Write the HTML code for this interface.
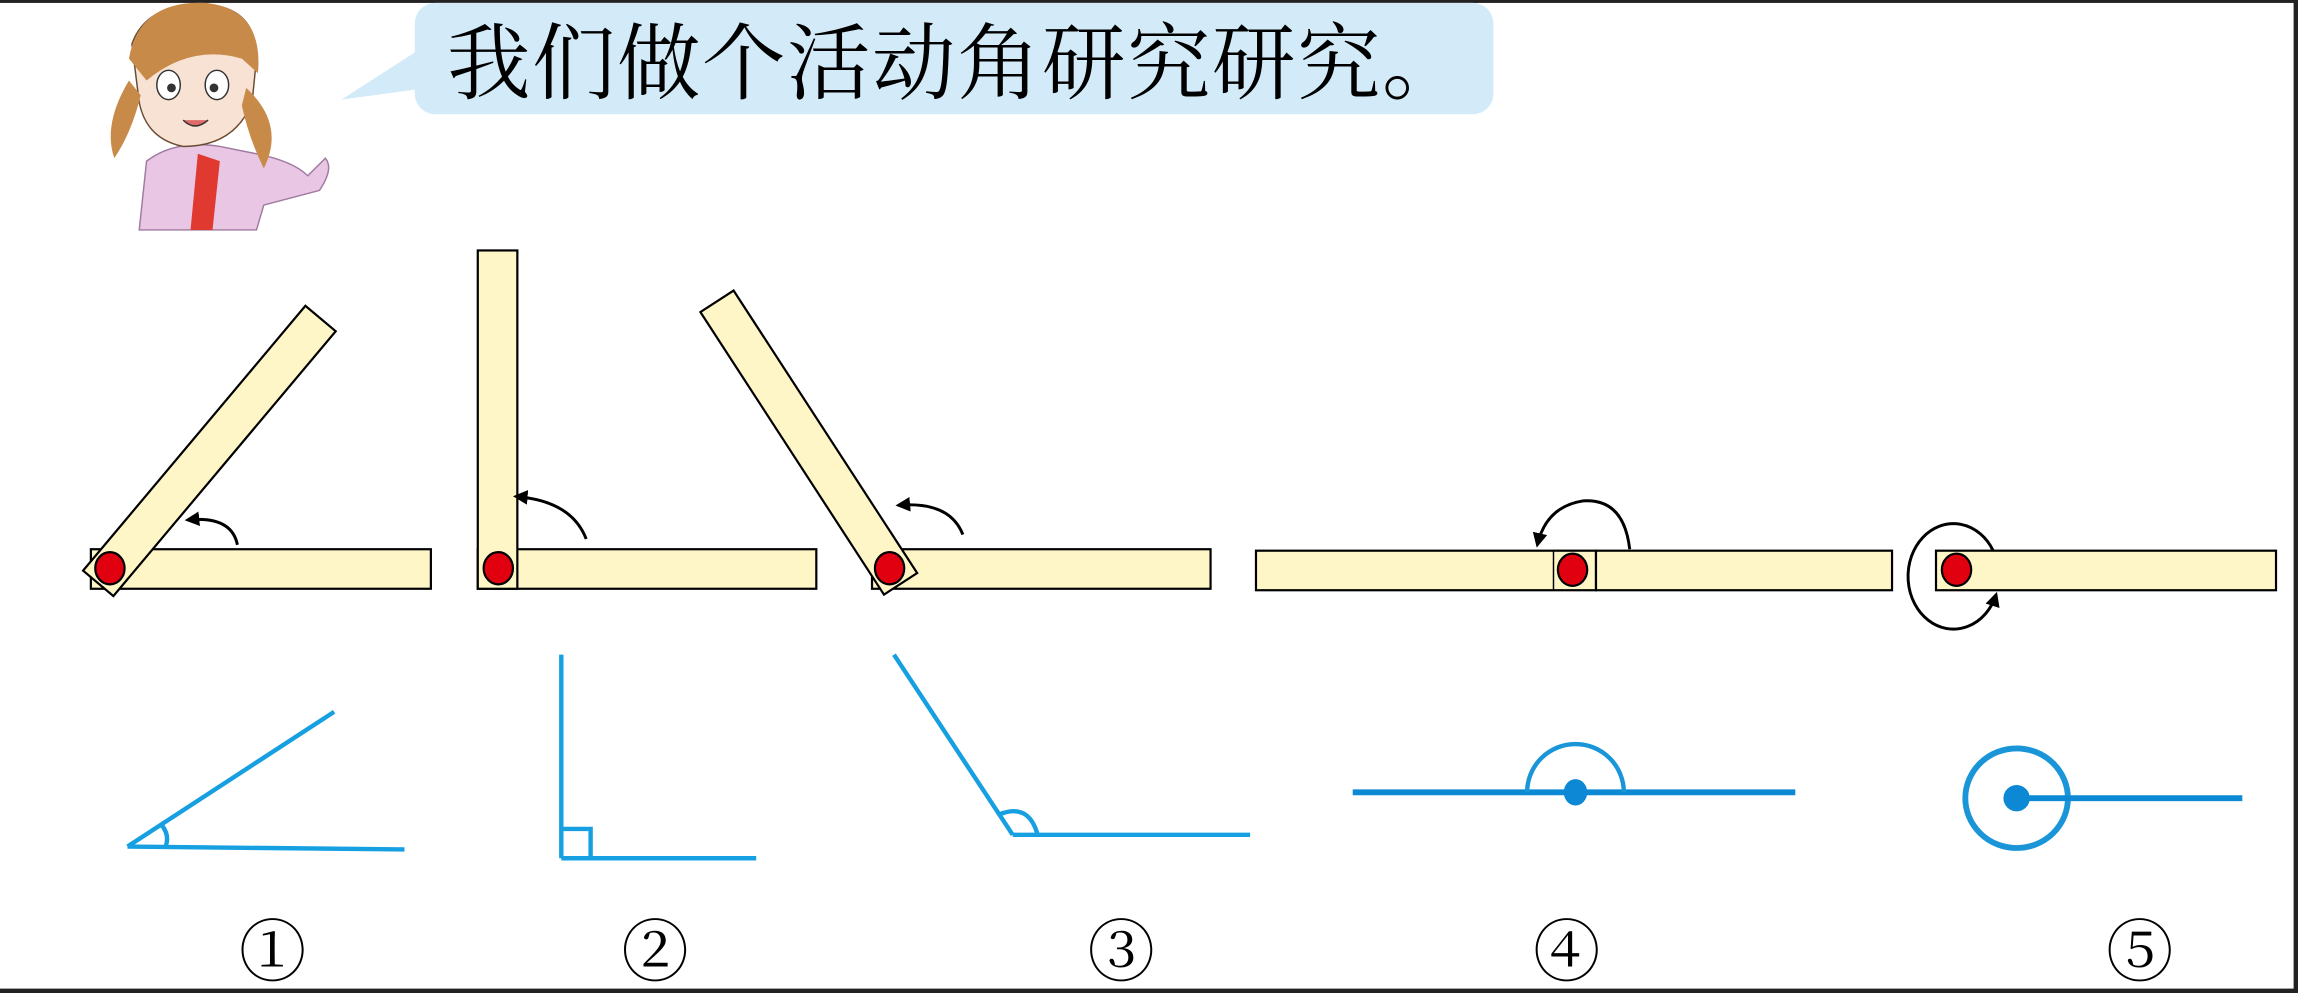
<!DOCTYPE html>
<html><head><meta charset="utf-8"><style>
html,body{margin:0;padding:0;background:#fff;}
svg{display:block;}
</style></head><body>
<svg width="2298" height="993" viewBox="0 0 1568 678" preserveAspectRatio="none" xmlns="http://www.w3.org/2000/svg">
<defs>
<marker id="ah" viewBox="0 0 10 10" refX="8" refY="5" markerWidth="5" markerHeight="5" orient="auto"><path d="M0,0L10,5L0,10z" fill="#000"/></marker>
</defs>
<rect x="0" y="0" width="1568" height="678" fill="#fff"/>
<rect x="0" y="0" width="1568" height="2" fill="#222"/>
<rect x="0" y="675" width="1568" height="3" fill="#222"/>
<rect x="1565" y="0" width="3" height="678" fill="#222"/>

<g>
<path d="M95,157 L100,110 Q120,95 150,100 L175,105 Q200,110 210,120 L222,108 Q228,115 218,130 L180,140 L175,157 Z" fill="#e8c6e4" stroke="#a07aa0" stroke-width="1"/>
<path d="M135,105 L150,110 L145,157 L130,157 Z" fill="#e03a30"/>
<path d="M90,30 Q100,2 140,3 Q175,5 175,40 L172,70 Q160,100 125,100 Q100,95 95,70 Z" fill="#f8e2d4" stroke="#6a4a30" stroke-width="1"/>
<path d="M88,40 Q95,0 140,2 Q180,6 176,50 L165,40 Q130,30 100,55 Z" fill="#c88a48"/>
<path d="M88,55 Q70,85 78,108 Q90,90 96,65 Z" fill="#c88a48"/>
<path d="M168,60 Q195,85 180,115 Q170,95 165,72 Z" fill="#c88a48"/>
<ellipse cx="115" cy="58" rx="8" ry="10" fill="#fff" stroke="#333"/>
<ellipse cx="148" cy="58" rx="8" ry="10" fill="#fff" stroke="#333"/>
<circle cx="117" cy="60" r="3" fill="#333"/><circle cx="146" cy="60" r="3" fill="#333"/>
<path d="M125,82 Q133,90 142,82" fill="#e06a6a" stroke="#333"/>
</g>

<g>
<path d="M292,30 L233,68 L292,60 Z" fill="#d3ebf8"/>
<rect x="283" y="2" width="736" height="76" rx="14" fill="#d3ebf8"/>
<text x="305" y="63" font-family="'Liberation Serif','Noto Serif CJK SC',serif" font-size="57" fill="#000" textLength="695">我们做个活动角研究研究。</text>
</g>

<g stroke="#000" stroke-width="1.5" fill="#fff6c8">
<rect x="62" y="375" width="232" height="27"/>
<g transform="rotate(-50 75 388)"><rect x="62" y="375" width="236" height="27"/></g>
<ellipse cx="75" cy="388" rx="10" ry="11" fill="#e00010"/>
<path d="M162,372 Q158,352 128,355" fill="none" stroke-width="2" marker-end="url(#ah)"/>
</g>
<g stroke="#000" stroke-width="1.5" fill="#fff6c8">
<rect x="326" y="375" width="231" height="27"/>
<rect x="326" y="171" width="27" height="231"/>
<ellipse cx="340" cy="388" rx="10" ry="11" fill="#e00010"/>
<path d="M400,368 Q390,342 352,339" fill="none" stroke-width="2" marker-end="url(#ah)"/>
</g>
<g stroke="#000" stroke-width="1.5" fill="#fff6c8">
<rect x="595" y="375" width="231" height="27"/>
<g transform="rotate(-123 607 388)"><rect x="594" y="375" width="230" height="27"/></g>
<ellipse cx="607" cy="388" rx="10" ry="11" fill="#e00010"/>
<path d="M657,365 Q648,342 613,345" fill="none" stroke-width="2" marker-end="url(#ah)"/>
</g>
<g stroke="#000" stroke-width="1.5" fill="#fff6c8">
<rect x="857" y="376" width="232" height="27"/>
<rect x="1089" y="376" width="202" height="27"/>
<rect x="1060" y="376" width="29" height="27" fill="none" stroke-width="1"/>
<ellipse cx="1073" cy="389" rx="10" ry="11" fill="#e00010"/>
<path d="M1112,375 Q1108,340 1080,342 Q1055,346 1049,372" fill="none" stroke-width="2" marker-end="url(#ah)"/>
</g>
<g stroke="#000" stroke-width="1.5" fill="#fff6c8">
<rect x="1321" y="376" width="232" height="27"/>
<ellipse cx="1335" cy="389" rx="10" ry="11" fill="#e00010"/>
<path d="M1360,376 A31,36 0 1 0 1362,406" fill="none" stroke-width="2" marker-end="url(#ah)"/>
</g>

<g stroke="#16a0e2" stroke-width="3" fill="none">
<line x1="87" y1="578" x2="228" y2="486"/>
<line x1="87" y1="578" x2="276" y2="580"/>
<path d="M110,563 Q116,570 113,578"/>
</g>
<g stroke="#16a0e2" stroke-width="3" fill="none">
<line x1="383" y1="447" x2="383" y2="586"/>
<line x1="383" y1="586" x2="516" y2="586"/>
<polyline points="383,566 403,566 403,586"/>
</g>
<g stroke="#16a0e2" stroke-width="3" fill="none">
<line x1="610" y1="447" x2="691" y2="570"/>
<line x1="691" y1="570" x2="853" y2="570"/>
<path d="M682,556 Q702,548 708,570"/>
</g>
<g stroke="#0c88d4" stroke-width="4" fill="none">
<line x1="923" y1="541" x2="1225" y2="541"/>
<path d="M1042,541 A33,33 0 0 1 1108,541" stroke="#1a96d8" stroke-width="3"/>
<ellipse cx="1075" cy="541" rx="8" ry="9" fill="#0c88d4" stroke="none"/>
</g>
<g stroke="#0c88d4" fill="none">
<ellipse cx="1376" cy="545" rx="35" ry="34" stroke="#1a96d8" stroke-width="4"/>
<line x1="1376" y1="545" x2="1530" y2="545" stroke-width="4"/>
<ellipse cx="1376" cy="545" rx="9" ry="9" fill="#0c88d4" stroke="none"/>
</g>

<g font-family="'Liberation Serif','DejaVu Serif','Noto Serif CJK SC',serif" font-size="46" fill="#000" text-anchor="middle">
<text x="186" y="666">①</text>
<text x="447" y="666">②</text>
<text x="765" y="666">③</text>
<text x="1069" y="666">④</text>
<text x="1460" y="666">⑤</text>
</g>
</svg>
</body></html>
